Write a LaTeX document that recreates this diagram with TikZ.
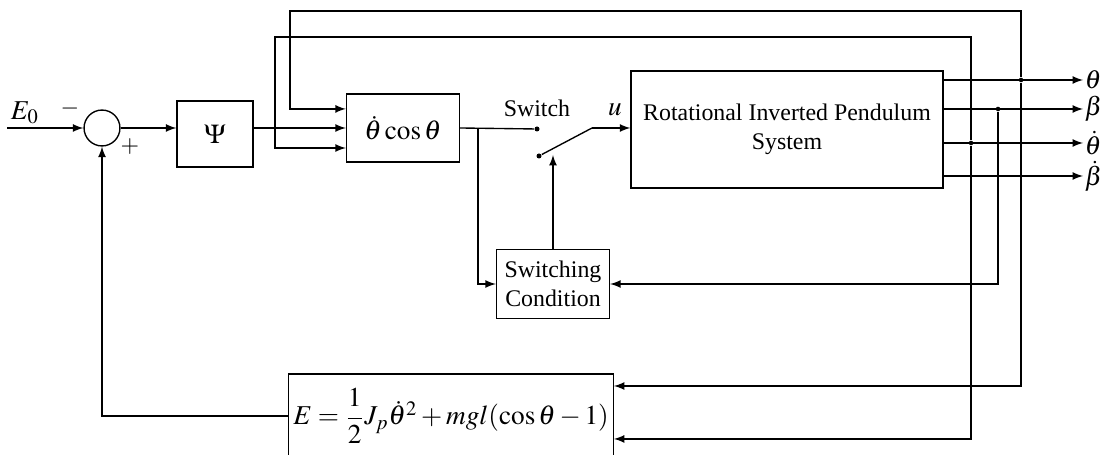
\documentclass[tikz,border=0pt]{standalone}
\usepackage{amsmath}
\usepackage{mathptmx}
\usepackage[no-math]{fontspec}
\setmainfont{Liberation Serif}
\usepackage{tikz}
\usetikzlibrary{positioning}

\begin{document}
\begin{tikzpicture}[x=0.44pt, y=-0.44pt, >=latex, line width=0.6pt,
        block/.style={draw, rectangle, inner sep=2pt, align=center, font=\fontsize{10.5}{12.5}\selectfont},
        dot/.style={circle, fill, inner sep=0pt, minimum size=2.2pt},
        lbl/.style={inner sep=1pt, font=\fontsize{10.5}{12.5}\selectfont},
        outlbl/.style={anchor=west, inner sep=0.5pt, font=\fontsize{11.5}{12}\selectfont}]
    \useasboundingbox (0,0) rectangle (1104,455);

    \node[draw, circle, inner sep=0pt, minimum size=15.8pt] (sum) at (102,128) {};
    \node[block, minimum width=33.4pt, minimum height=29pt] (psi) at (215,134) {\large$\Psi$};
    \node[block, minimum width=49.7pt, minimum height=29.9pt] (th) at (403,128) {\large$\dot{\theta}\cos\theta$};
    \node[block, minimum width=49.7pt, minimum height=30.4pt] (sw) at (553,284) {Switching\\Condition};
    \node[block, minimum width=137.3pt, minimum height=51.5pt] (sys) at (787,129.5) {Rotational Inverted Pendulum\\System};
    \node[block, minimum width=139.5pt, minimum height=37pt] (eq) at (451,416) {\large$E=\dfrac{1}{2}J_p\dot{\theta}^2+mgl(\cos\theta-1)$};

    \node[lbl] (e0) at (25,113) {\large$E_0$};
    \node[lbl] (minus) at (70,109) {$-$};
    \node[lbl] (plus) at (130,147) {$+$};
    \node[lbl] (swlab) at (537,108) {Switch};
    \node[lbl] (ulab) at (615,110) {\large$u$};

    \node[dot] (s1) at (537,129) {};
    \node[dot] (s2) at (539,156) {};
    \coordinate (lv) at (592,128);
    \coordinate (br) at (478,128);
    \coordinate (tip) at (553,155);
    \coordinate (in) at (7,128);

    \node[outlbl] (lth) at (1083,80) {$\theta$};
    \node[outlbl] (lbe) at (1083,109) {$\beta$};
    \node[outlbl] (ltd) at (1083,143) {$\dot{\theta}$};
    \node[outlbl] (lbd) at (1083,176) {$\dot{\beta}$};

    \node[dot, minimum size=2pt] (d1) at (1021,80) {};
    \node[dot, minimum size=2pt] (d2) at (998,109) {};
    \node[dot, minimum size=2pt] (d3) at (971,143) {};
    \coordinate (t1) at (1021,11);
    \coordinate (t1l) at (290,11);
    \coordinate (t2) at (971,37);
    \coordinate (t2l) at (275,37);

    \draw[->] (in) -- (sum.west);
    \draw[->] (sum.east) -- (sum -| psi.west);
    \draw[->] (psi.east |- sum) -- (sum -| th.west);
    \draw (th.east) -- (s1);
    \draw[->] (br) |- (sw.west);
    \draw (s2) -- (lv);
    \draw[->] (lv) -- (lv -| sys.west);
    \draw[->] (sw.north) -- (tip);

    \draw[->] (sys.east |- lth) -- (lth.west);
    \draw[->] (sys.east |- lbe) -- (lbe.west);
    \draw[->] (sys.east |- ltd) -- (ltd.west);
    \draw[->] (sys.east |- lbd) -- (lbd.west);

    \draw[->] (d1) -- (t1) -- (t1l) |- ([yshift=8.4pt]th.west);
    \draw[->] (d3) -- (t2) -- (t2l) |- ([yshift=-8.8pt]th.west);
    \draw[->] (d1) |- ([yshift=13.2pt]eq.east);
    \draw[->] (d3) |- ([yshift=-10.1pt]eq.east);
    \draw[->] (d2) |- (sw.east);
    \draw[->] (eq.west) -| (sum.south);
\end{tikzpicture}
\end{document}
